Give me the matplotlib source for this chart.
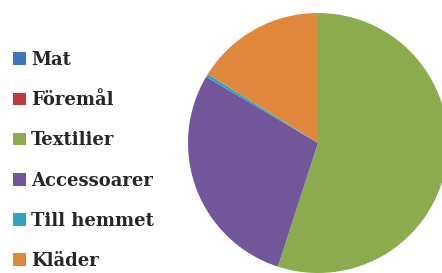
import matplotlib
matplotlib.use("Agg")
import matplotlib.pyplot as plt

categories = ["Mat", "Föremål", "Textilier", "Accessoarer", "Till hemmet", "Kläder"]
values = [0, 0, 55.0, 28.5, 0.4, 16.1]
colors = ["#3E76BC", "#BE3B3B", "#8CAA4E", "#71569A", "#2FA3C2", "#E0883B"]

fig = plt.figure(figsize=(4.42, 2.73), dpi=100)
fig.patch.set_facecolor("white")

W, H = 442, 273
cx, cy, r = 318, 143, 130
ax = fig.add_axes([(cx - r) / W, (H - cy - r) / H, 2 * r / W, 2 * r / H])
wedges, _ = ax.pie(values, colors=colors, startangle=90, counterclock=False,
                   radius=1.0, wedgeprops=dict(linewidth=0))
ax.set_xlim(-1, 1)
ax.set_ylim(-1, 1)
ax.set_aspect("equal", adjustable="box")
ax.axis("off")

leg = fig.legend(wedges, categories, loc="upper left",
                 bbox_to_anchor=(13 / W, 1 - 51 / H),
                 frameon=False,
                 prop={"family": "DejaVu Serif", "size": 13, "weight": "bold"},
                 handlelength=0.7, handleheight=0.7, handletextpad=0.3,
                 labelspacing=1.23, borderaxespad=0, borderpad=0)
for t in leg.get_texts():
    t.set_color("#262626")

fig.savefig("out.png", dpi=100, facecolor="white")
